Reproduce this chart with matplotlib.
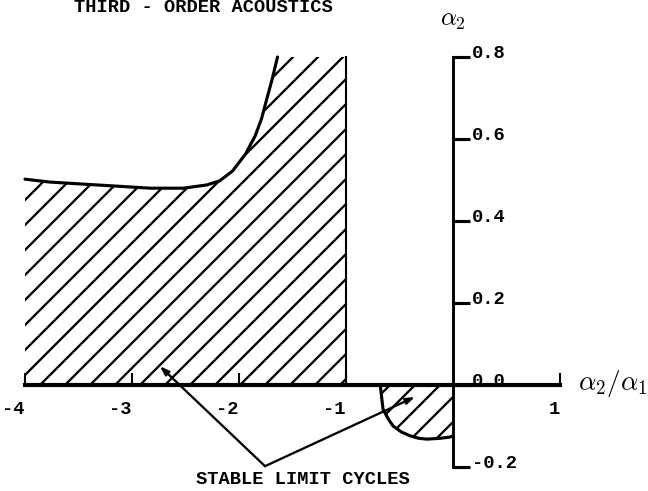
import matplotlib
matplotlib.use("Agg")
import matplotlib.pyplot as plt

# ---------------- data ----------------
title = "THIRD - ORDER ACOUSTICS"
region_label = "STABLE LIMIT CYCLES"
x_label = r"$\alpha_2/\alpha_1$"
y_label = r"$\alpha_2$"

# upper boundary of the large stable region
upper_x = [-4.0, -3.77, -3.46, -3.14, -2.83, -2.52, -2.30, -2.18, -2.06,
           -1.94, -1.85, -1.79, -1.74, -1.69, -1.64]
upper_y = [0.502, 0.495, 0.490, 0.485, 0.480, 0.480, 0.488, 0.498, 0.522,
           0.563, 0.607, 0.649, 0.698, 0.746, 0.80]
region_right = -1.0
region_top = 0.8

# lower boundary of the small stable region
small_x = [-0.68, -0.654, -0.60, -0.56, -0.48, -0.40, -0.32, -0.243, -0.12, -0.03, 0.0]
small_y = [0.0, -0.059, -0.085, -0.10, -0.115, -0.124, -0.13, -0.132, -0.13, -0.127, -0.124]

xticks = [-4, -3, -2, -1, 1]
xtick_labels = ["-4", "-3", "-2", "-1", "1"]
yticks = [-0.2, 0.0, 0.2, 0.4, 0.6, 0.8]
ytick_labels = ["-0.2", "0.0", "0.2", "0.4", "0.6", "0.8"]

pointer_from = (-1.757, -0.198)
pointer_to = [(-2.74, 0.046), (-0.355, -0.029)]
label_pos = (-1.40, -0.229)
title_pos = (-2.33, 0.912)

# ---------------- figure ----------------
DPI = 150
plt.rcParams["hatch.linewidth"] = 1.1
plt.rcParams["mathtext.fontset"] = "cm"
MONO = "Liberation Mono"

fig = plt.figure(figsize=(648 / DPI, 492 / DPI), dpi=DPI)
ax = fig.add_axes([0, 0, 1, 1])
ax.set_xlim(-453 / 107, (648 - 453) / 107)
ax.set_ylim(-(492 - 386) / 410, 386 / 410)

# large hatched region
fx = upper_x + [region_right]
fy = upper_y + [region_top]
ax.fill_between(fx, 0, fy, facecolor="none", edgecolor="black",
                linewidth=0, hatch="//")
ax.plot(upper_x, upper_y, color="black", lw=1.5, solid_capstyle="round")
ax.plot([region_right, region_right], [0, region_top], color="black", lw=1.0)

# small hatched region
ax.fill_between(small_x, small_y, 0, facecolor="none", edgecolor="black",
                linewidth=0, hatch="//")
ax.plot(small_x, small_y, color="black", lw=1.5)

# pointers
for tip in pointer_to:
    ax.annotate("", xy=tip, xytext=pointer_from,
                arrowprops=dict(arrowstyle="-|>,head_length=0.35,head_width=0.12",
                                lw=1.1, color="black", shrinkA=0, shrinkB=0))

ax.text(*label_pos, region_label, ha="center", va="center",
        fontfamily=MONO, fontweight="bold", fontsize=9)
ax.text(*title_pos, title, ha="center", va="baseline",
        fontfamily=MONO, fontweight="bold", fontsize=9)

# axes styling
for s in ("top", "left"):
    ax.spines[s].set_visible(False)
ax.spines["bottom"].set_position(("data", 0))
ax.spines["bottom"].set_bounds(-4, 1)
ax.spines["bottom"].set_linewidth(2.0)
ax.spines["right"].set_position(("data", 0))
ax.spines["right"].set_bounds(-0.2, 0.8)
ax.spines["right"].set_linewidth(1.4)

ax.yaxis.tick_right()
ax.tick_params(axis="x", direction="in", length=6, width=1.0, pad=7)
ax.tick_params(axis="y", direction="out", length=8, width=1.5, pad=1)
ax.set_xticks(xticks, labels=xtick_labels, fontfamily=MONO, fontweight="bold",
              fontsize=9, ha="right")
ax.set_yticks(yticks, labels=ytick_labels, fontfamily=MONO, fontweight="bold",
              fontsize=9, va="baseline")

ax.text(1.17, 0.005, x_label, ha="left", va="center", fontsize=13)
ax.text(0.0, 0.893, y_label, ha="center", va="center", fontsize=12)

fig.savefig("out.png", dpi=DPI)
